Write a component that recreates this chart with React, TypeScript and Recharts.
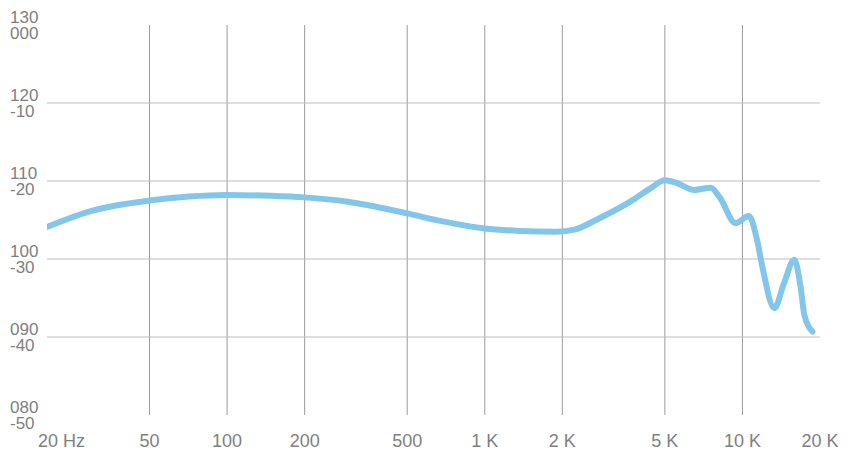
import { LineChart, Line, XAxis, YAxis, CartesianGrid } from 'recharts';

const freqs = [
  20, 30, 50, 71, 100, 148, 200, 294, 500, 680, 1000, 1370, 1900, 2250, 2700,
  3670, 4390, 5000, 5600, 6500, 7530, 8200, 9400, 10600, 11400, 11950, 13300, 14500,
  15900, 16800, 17400, 18700,
];
const levels = [
  104.1, 106.2, 107.5, 108.0, 108.2, 108.1, 107.9, 107.35, 105.85, 104.85, 103.9,
  103.6, 103.5, 103.8, 105.0, 107.35, 109.05, 110.1, 109.7, 108.85, 109.15, 107.8, 104.6,
  105.5, 102.4, 99.0, 93.7, 96.9, 99.9, 96.5, 92.8, 90.7,
];

const xTicks = [20, 50, 100, 200, 500, 1000, 2000, 5000, 10000, 20000];
const xLabels = ['20 Hz', '50', '100', '200', '500', '1 K', '2 K', '5 K', '10 K', '20 K'];
const yTicks = [80, 90, 100, 110, 120, 130];
const yTop = ['080', '090', '100', '110', '120', '130'];
const yBottom = ['-50', '-40', '-30', '-20', '-10', '000'];

const data = freqs.map((f, i) => ({ f, level: levels[i] }));

const FONT = '"Liberation Sans", Arial, sans-serif';
const TEXT = '#808080';

function XTick({ x, y, payload }: any) {
  const i = xTicks.indexOf(payload.value);
  const first = i === 0;
  return (
    <text
      x={first ? x - 9 : x}
      y={y + 24}
      textAnchor={first ? 'start' : 'middle'}
      fill={TEXT}
      fontSize={18}
      fontFamily={FONT}
    >
      {xLabels[i]}
    </text>
  );
}

function YTick({ y, payload }: any) {
  const i = yTicks.indexOf(payload.value);
  return (
    <g>
      <text x={10} y={y - 2} textAnchor="start" fill={TEXT} fontSize={17} fontFamily={FONT}>
        {yTop[i]}
      </text>
      <text x={10} y={y + 14} textAnchor="start" fill={TEXT} fontSize={17} fontFamily={FONT}>
        {yBottom[i]}
      </text>
    </g>
  );
}

export default function App() {
  return (
    <div style={{ position: 'absolute', left: 0, top: 0, background: '#fff' }}>
      <LineChart width={850} height={450} data={data} margin={{ top: 25, right: 30, bottom: 0, left: 0 }}>
        <CartesianGrid
          horizontal={false}
          verticalValues={[50, 100, 200, 500, 1000, 2000, 5000, 10000]}
          stroke="#9a9a9a"
        />
        <CartesianGrid
          vertical={false}
          horizontalValues={[90, 100, 110, 120]}
          stroke="#bdbdbd"
        />
        <XAxis
          dataKey="f"
          type="number"
          scale="log"
          domain={[20, 20000]}
          ticks={xTicks}
          tick={<XTick />}
          axisLine={false}
          tickLine={false}
          height={35}
          allowDataOverflow
        />
        <YAxis
          type="number"
          domain={[80, 130]}
          ticks={yTicks}
          tick={<YTick />}
          axisLine={false}
          tickLine={false}
          width={47}
        />
        <Line
          type="monotone"
          dataKey="level"
          stroke="#84c6ea"
          strokeWidth={6}
          strokeLinecap="round"
          strokeLinejoin="round"
          dot={false}
          isAnimationActive={false}
        />
      </LineChart>
    </div>
  );
}
